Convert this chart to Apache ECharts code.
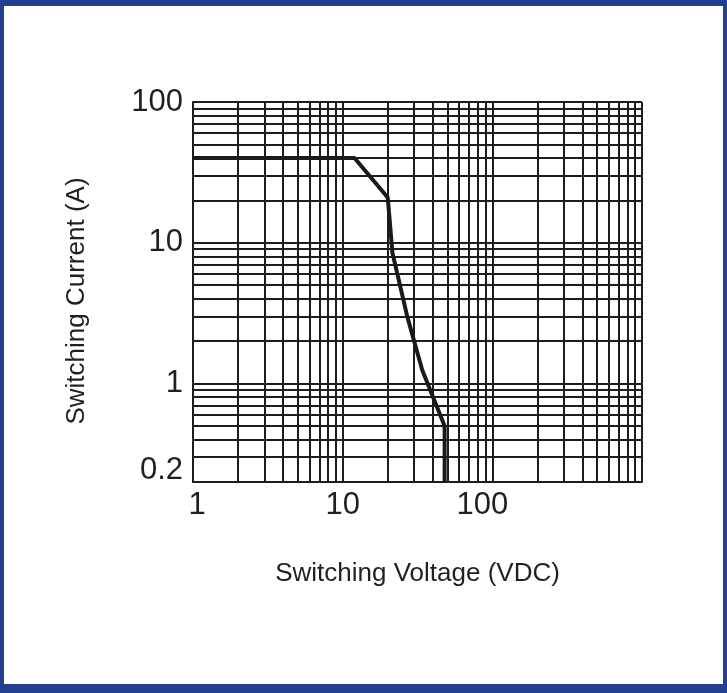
<!DOCTYPE html>
<html>
<head>
<meta charset="utf-8">
<title>Switching Current vs Voltage</title>
<script src="https://cdn.jsdelivr.net/npm/echarts@6/dist/echarts.min.js"></script>
<style>
  html, body { margin: 0; padding: 0; background: #fff; }
  #chart { width: 727px; height: 693px; }
</style>
</head>
<body>
<div id="chart"></div>
<script>
// 曲线数据 (电压 VDC, 电流 A)
var voltage = [1, 12, 20, 21.5, 27, 34, 48, 48];
var current = [40, 40, 21, 8.5, 3, 1.25, 0.5, 0.2];

// 网格线位置
var xGridLines = [1, 2, 3, 4, 5, 6, 7, 8, 9,
                  10, 20, 30, 40, 50, 60, 70, 80, 90,
                  100, 200, 300, 400, 500, 600, 700, 800, 900, 1000];
var yGridLines = [0.2, 0.3, 0.4, 0.5, 0.6, 0.7, 0.8, 0.9,
                  1, 2, 3, 4, 5, 6, 7, 8, 9,
                  10, 20, 30, 40, 50, 60, 70, 80, 90, 100];

var xTickLabels = ['1', '10', '100'];
var yTickLabels = ['0.2', '1', '10', '100'];

var FONT = 'Liberation Sans, Arial, Helvetica, sans-serif';
var TEXT = '#231f20';
var FRAME = '#243f8f';
var LINE = '#1e1e1e';

var points = [];
for (var i = 0; i < voltage.length; i++) {
	points.push([voltage[i], current[i]]);
}

var gridMarks = [];
xGridLines.forEach(function(v) { gridMarks.push({ xAxis: v }); });
yGridLines.forEach(function(v) { gridMarks.push({ yAxis: v }); });

function fmt(v) {
	return +(+v).toPrecision(3);
}

var myChart = echarts.init(document.getElementById('chart'));
var option = {
	animation: false,
	backgroundColor: '#fff',
	grid: { left: 193, right: 85, top: 102, bottom: 211 },
	xAxis: {
		type: 'log',
		logBase: 10,
		min: 1,
		max: 1000,
		name: 'Switching Voltage (VDC)',
		nameLocation: 'middle',
		nameGap: 79,
		nameTextStyle: { fontFamily: FONT, fontSize: 26, color: TEXT },
		axisLine: { show: true, lineStyle: { color: LINE, width: 2 } },
		axisTick: { show: false },
		splitLine: { show: false },
		minorTick: { show: false },
		axisLabel: {
			margin: 8,
			fontFamily: FONT,
			fontSize: 31,
			color: TEXT,
			formatter: function(v) {
				var s = String(fmt(v));
				if (xTickLabels.indexOf(s) < 0) return '';
				if (s === '1') return '{a|1}';
				if (s === '100') return '{c|100}';
				return s;
			},
			rich: {
				a: { fontFamily: FONT, fontSize: 31, color: TEXT, padding: [0, 0, 0, 8] },
				c: { fontFamily: FONT, fontSize: 31, color: TEXT, padding: [0, 20, 0, 0] }
			}
		}
	},
	yAxis: {
		type: 'log',
		logBase: 10,
		min: 0.2,
		max: 100,
		name: 'Switching Current (A)',
		nameLocation: 'middle',
		nameGap: 103,
		nameTextStyle: { fontFamily: FONT, fontSize: 26, color: TEXT, padding: [0, 18, 0, 0] },
		axisLine: { show: true, lineStyle: { color: LINE, width: 2 } },
		axisTick: { show: false },
		splitLine: { show: false },
		minorTick: { show: false },
		axisLabel: {
			margin: 10,
			fontFamily: FONT,
			fontSize: 31,
			color: TEXT,
			formatter: function(v) {
				var s = String(fmt(v));
				if (yTickLabels.indexOf(s) < 0) return '';
				return s === '0.2' ? '{lo|' + s + '}' : s;
			},
			rich: {
				lo: { fontFamily: FONT, fontSize: 31, color: TEXT, padding: [0, 0, 24, 0] }
			}
		}
	},
	series: [{
		type: 'line',
		data: points,
		symbol: 'none',
		silent: true,
		lineStyle: { color: '#1a1a1a', width: 4 },
		z: 5,
		markLine: {
			silent: true,
			symbol: ['none', 'none'],
			label: { show: false },
			lineStyle: { color: LINE, width: 2, type: 'solid' },
			emphasis: { disabled: true },
			data: gridMarks,
			z: 1
		}
	}],
	graphic: [
		{ type: 'rect', shape: { x: 0, y: 0, width: 727, height: 6 }, style: { fill: FRAME }, z: 100 },
		{ type: 'rect', shape: { x: 0, y: 684, width: 727, height: 9 }, style: { fill: FRAME }, z: 100 },
		{ type: 'rect', shape: { x: 0, y: 0, width: 4, height: 693 }, style: { fill: FRAME }, z: 100 },
		{ type: 'rect', shape: { x: 723, y: 0, width: 4, height: 693 }, style: { fill: FRAME }, z: 100 }
	]
};
myChart.setOption(option);
</script>
</body>
</html>
